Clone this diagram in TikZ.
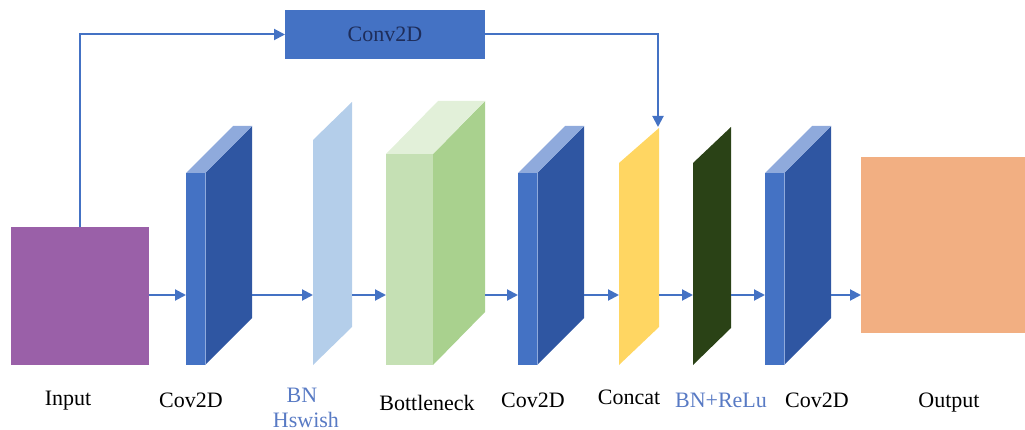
\documentclass[tikz,border=0pt]{standalone}
\usepackage{fontspec}
\setmainfont{Liberation Serif}
\usetikzlibrary{arrows.meta,calc}

\definecolor{flowblue}{RGB}{68,114,196}
\definecolor{slabfrontc}{RGB}{68,114,196}
\definecolor{slabsidec}{RGB}{47,86,162}
\definecolor{slabtopc}{RGB}{143,170,220}
\definecolor{inputc}{RGB}{154,96,168}
\definecolor{outputc}{RGB}{242,175,130}
\definecolor{bnc}{RGB}{180,206,234}
\definecolor{catc}{RGB}{255,214,98}
\definecolor{reluc}{RGB}{42,66,22}
\definecolor{bfront}{RGB}{197,224,180}
\definecolor{bside}{RGB}{169,209,142}
\definecolor{btop}{RGB}{226,240,217}
\definecolor{convtext}{RGB}{30,45,90}
\definecolor{labelblue}{RGB}{88,122,196}

\tikzset{
  arr/.style={draw=flowblue, line width=2pt, -{Triangle[length=11pt,width=11pt]}},
  block/.style={draw=none, inner sep=0pt, outer sep=0pt},
  slabfront/.style={block, fill=slabfrontc, minimum width=19pt, minimum height=192pt},
  lbl/.style={anchor=base, font=\fontsize{22}{26}\selectfont, text=black},
  bluelbl/.style={lbl, text=labelblue},
}

% a thin 3D convolution slab: #1 name, #2 left edge of the front face
\newcommand{\convslab}[2]{%
  \node[slabfront] (#1) at (#2+9.5,269) {};
  \fill[slabsidec] (#1.north east) -- ++(47,-47) -- ++(0,192) -- (#1.south east) -- cycle;
  \fill[slabtopc] (#1.north west) -- ++(47,-47) -- ++(19,0) -- (#1.north east) -- cycle;
  \draw[slabtopc, line width=0.8pt] (#1.north east) -- (#1.south east);
  \coordinate (#1-back) at ($(#1.east)+(47,0)$);
}

\begin{document}
\begin{tikzpicture}[x=1pt, y=-1pt]
\useasboundingbox (0,0) rectangle (1025,430);
\coordinate (flow) at (0,295);

% input and output maps
\node[block, fill=inputc, minimum width=138pt, minimum height=138pt] (input) at (80,296) {};
\node[block, fill=outputc, minimum width=164pt, minimum height=176pt] (output) at (943,245) {};

% side branch convolution
\node[block, fill=flowblue, minimum width=200pt, minimum height=49pt,
      font=\fontsize{22}{26}\selectfont, text=convtext] (conv) at (385,34.5) {Conv2D};

% convolution slabs
\convslab{c1}{186}
\convslab{c2}{518}
\convslab{c3}{765}

% BN + Hswish sheet
\fill[bnc] (313,140) -- (352,102) -- (352,327) -- (313,365) -- cycle;
\coordinate (bn-w) at (313,295);
\coordinate (bn-e) at (352,295);

% bottleneck block
\node[block, fill=bfront, minimum width=47pt, minimum height=211pt] (bneck) at (409.5,259.5) {};
\fill[bside] (bneck.north east) -- ++(52,-53) -- ++(0,211) -- (bneck.south east) -- cycle;
\fill[btop] (bneck.north west) -- ++(52,-53) -- ++(47,0) -- (bneck.north east) -- cycle;
\coordinate (bneck-back) at ($(bneck.east)+(52,0)$);

% concat sheet
\fill[catc] (619,163) -- (659,128) -- (659,327) -- (619,365) -- cycle;
\coordinate (cat-w) at (619,295);
\coordinate (cat-e) at (659,295);
\coordinate (cat-top) at (658,127);

% BN + ReLu sheet
\fill[reluc] (693,163) -- (731,127) -- (731,328) -- (693,365) -- cycle;
\coordinate (relu-w) at (693,295);
\coordinate (relu-e) at (731,295);

% main flow
\draw[arr] (input.east |- flow) -- (c1.west |- flow);
\draw[arr] (c1-back |- flow) -- (bn-w);
\draw[arr] (bn-e) -- (bneck.west |- flow);
\draw[arr] (bneck-back |- flow) -- (c2.west |- flow);
\draw[arr] (c2-back |- flow) -- (cat-w);
\draw[arr] (cat-e) -- (relu-w);
\draw[arr] (relu-e) -- (c3.west |- flow);
\draw[arr] (c3-back |- flow) -- (output.west |- flow);

% side branch
\draw[arr] (input.north) |- (conv.west);
\draw[arr] (conv.east) -| (cat-top);

% labels
\node[lbl] at (68,405) {Input};
\node[lbl] at (191,407) {Cov2D};
\node[bluelbl] at (302,402) {BN};
\node[bluelbl] at (306,427) {Hswish};
\node[lbl] at (427,410) {Bottleneck};
\node[lbl] at (533,407) {Cov2D};
\node[lbl] at (629,404) {Concat};
\node[bluelbl] at (721,407) {BN+ReLu};
\node[lbl] at (817,407) {Cov2D};
\node[lbl] at (949,407) {Output};
\end{tikzpicture}
\end{document}
